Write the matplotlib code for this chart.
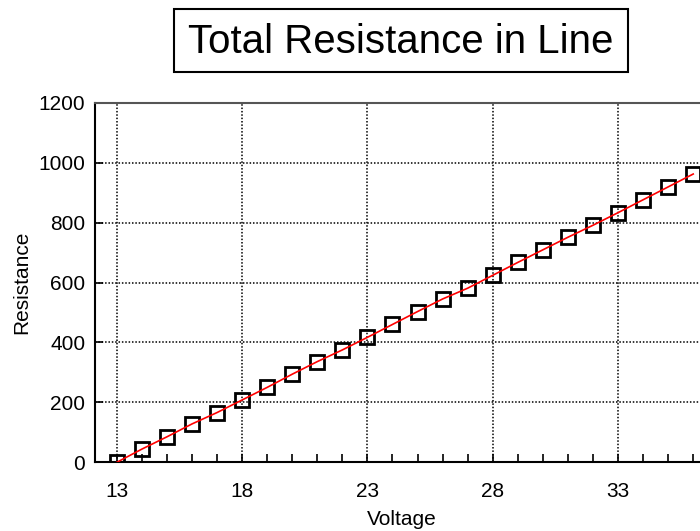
import matplotlib.pyplot as plt
from matplotlib.ticker import MultipleLocator
from matplotlib.patches import Rectangle

plt.rcParams['font.family'] = ['Liberation Sans', 'DejaVu Sans']

# data
voltage = [13, 14, 15, 16, 17, 18, 19, 20, 21, 22, 23, 24,
           25, 26, 27, 28, 29, 30, 31, 32, 33, 34, 35, 36]
resistance = [0, 44, 85, 128, 166, 208, 250, 294, 336, 375, 417, 460,
              503, 545, 581, 624, 667, 709, 751, 791, 833, 876, 919, 962]
xticks = [13, 18, 23, 28, 33]
yticks = [0, 200, 400, 600, 800, 1000, 1200]

W, H = 700, 531
fig = plt.figure(figsize=(W / 100, H / 100), dpi=100)
# axes runs slightly past the right edge of the picture, like the original
ax = fig.add_axes([95 / W, 1 - 462.3 / H, (709 - 95) / W, (462.3 - 102.7) / H])

ax.plot(voltage, resistance, 's', ms=9.5, mfc='none', mec='black', mew=2, zorder=3)
ax.plot(voltage, resistance, '-', color='red', lw=1.2, zorder=4)

ax.set_xlim(12.13, 36.63)
ax.set_ylim(0, 1200)
ax.set_xticks(xticks)
ax.set_yticks(yticks)
ax.xaxis.set_minor_locator(MultipleLocator(1))
ax.tick_params(which='both', direction='in', top=False, right=False,
               labelsize=15, colors='black')
ax.tick_params(which='both', length=6, width=1.2)
ax.tick_params(axis='x', pad=14)
ax.tick_params(axis='y', pad=7)
ax.grid(True, which='major', color='black', linestyle=(0, (1, 1.2)), lw=1.1)

for s in ax.spines.values():
    s.set_linewidth(1.5)
ax.spines['top'].set_color('#555555')

ax.set_xlabel('Voltage', fontsize=15, labelpad=7)
ax.set_ylabel('Resistance', fontsize=15, labelpad=5)

# title in a box
fig.patches.append(Rectangle((174 / W, 1 - 72 / H), (628 - 174) / W, 63 / H,
                             transform=fig.transFigure, fc='white', ec='black', lw=1.5))
fig.text(401 / W, 1 - 42 / H, 'Total Resistance in Line', fontsize=29,
         ha='center', va='center')

fig.savefig('out.png', dpi=100)
